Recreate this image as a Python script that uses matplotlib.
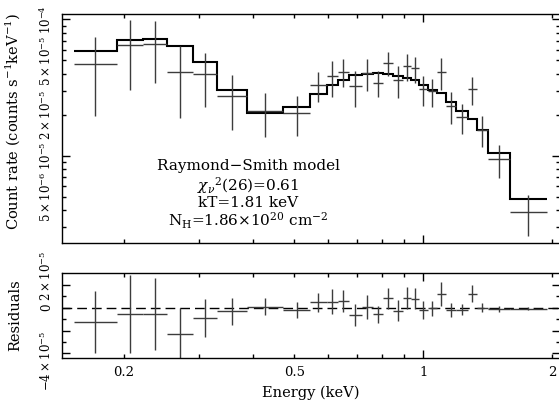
import matplotlib
matplotlib.use("Agg")
import matplotlib.pyplot as plt
import numpy as np

plt.rcParams['font.family'] = ['DejaVu Serif']
plt.rcParams['mathtext.fontset'] = 'dejavuserif'

# bin edges (keV)
edges = np.array([0.1527, 0.1921, 0.2217, 0.2515, 0.2902, 0.3302, 0.3880, 0.4709,
                  0.5435, 0.5945, 0.6320, 0.6706, 0.7190, 0.7632, 0.8052, 0.8519,
                  0.8967, 0.9360, 0.9772, 1.0256, 1.0766, 1.1298, 1.1923, 1.2719,
                  1.3354, 1.4163, 1.5945, 1.9421])

# count rate, error, model (units of 1e-5 counts/s/keV)
rate = np.array([4.68, 6.48, 6.60, 4.12, 3.95, 2.73, 2.13, 2.07, 3.31, 3.84, 4.15,
                 3.25, 4.06, 3.45, 4.80, 3.60, 4.55, 4.37, 3.10, 2.98, 4.12, 2.32,
                 1.93, 3.08, 1.56, 0.946, 0.39]) * 1e-5
err = np.array([2.71, 3.42, 3.15, 2.21, 1.68, 1.19, 0.75, 0.66, 0.82, 1.12, 0.96,
                0.95, 1.05, 0.77, 0.94, 0.93, 0.99, 0.92, 0.77, 0.68, 1.07, 0.61,
                0.48, 0.72, 0.40, 0.26, 0.131]) * 1e-5
model = np.array([5.89, 7.06, 7.14, 6.38, 4.85, 3.05, 2.05, 2.27, 2.84, 3.31, 3.60,
                  3.91, 4.00, 4.03, 3.98, 3.85, 3.70, 3.60, 3.31, 3.04, 2.90, 2.48,
                  2.12, 1.85, 1.55, 1.046, 0.484]) * 1e-5

lo = edges[:-1]
hi = edges[1:]
cen = np.sqrt(lo * hi)
xerr = [cen - lo, hi - cen]
resid = rate - model

dcol = '#3c3c3c'
lsize = 10.5
tsize = 9.5
ysize = 8.5

fig = plt.figure(figsize=(5.59, 4.04), dpi=100)
ax1 = fig.add_axes([62/559, 1 - 243/404, 498/559, 229/404])
ax2 = fig.add_axes([62/559, 1 - 358/404, 498/559, 85/404], sharex=ax1)

# --- spectrum panel
ax1.errorbar(cen, rate, xerr=xerr, yerr=err, fmt='none', ecolor=dcol, elinewidth=1.0, capsize=0)
ax1.stairs(model, edges, baseline=None, color='black', linewidth=1.5)

ax1.set_xscale('log')
ax1.set_yscale('log')
ax1.set_xlim(0.1432, 2.087)
ax1.set_ylim(2.31e-6, 1.094e-4)

ax1.set_yticks([1e-5, 1e-4], [r'$10^{-5}$', r'$10^{-4}$'])
ymin_t = [3e-6, 4e-6, 5e-6, 6e-6, 7e-6, 8e-6, 9e-6,
          2e-5, 3e-5, 4e-5, 5e-5, 6e-5, 7e-5, 8e-5, 9e-5]
ymin_l = ['', '', r'$5\times10^{-6}$', '', '', '', '',
          r'$2\times10^{-5}$', '', '', r'$5\times10^{-5}$', '', '', '', '']
ax1.set_yticks(ymin_t, ymin_l, minor=True)

ax1.set_ylabel(r'Count rate (counts s$^{-1}$keV$^{-1}$)', fontsize=lsize)
ax1.yaxis.set_label_coords(-0.080, 0.53)

ax1.text(0.3735, 0.336, 'Raymond\u2212Smith model', transform=ax1.transAxes,
         ha='center', va='center', fontsize=11)
ax1.text(0.3735, 0.253, r'$\chi_{\nu}{}^{2}$(26)=0.61', transform=ax1.transAxes,
         ha='center', va='center', fontsize=11)
ax1.text(0.3735, 0.175, 'kT=1.81 keV', transform=ax1.transAxes,
         ha='center', va='center', fontsize=11)
ax1.text(0.3735, 0.096, r'N$_{\rm H}$=1.86$\times$10$^{20}$ cm$^{-2}$', transform=ax1.transAxes,
         ha='center', va='center', fontsize=11)

# --- residual panel
ax2.axhline(0, color='black', linewidth=1.0, linestyle=(0, (7, 3.6)))
ax2.errorbar(cen, resid, xerr=xerr, yerr=err, fmt='none', ecolor=dcol, elinewidth=1.0, capsize=0)
ax2.set_ylim(-4.4e-5, 3.04e-5)
ax2.set_yticks([-4e-5, -2e-5, 0, 2e-5], ['', '', '0', ''])
ax2.set_yticks([-3e-5, -1e-5, 1e-5], minor=True)
# outer residual labels sit a little away from their ticks, as in the original
ytr = ax2.get_yaxis_transform()
ax2.text(-0.0167, 2.75e-5, r'$2\times10^{-5}$', transform=ytr, rotation=90,
         ha='right', va='center', fontsize=ysize)
ax2.text(-0.0167, -4.65e-5, r'$-4\times10^{-5}$', transform=ytr, rotation=90,
         ha='right', va='center', fontsize=ysize)
ax2.set_ylabel('Residuals', fontsize=lsize)
ax2.yaxis.set_label_coords(-0.080, 0.5)

ax2.set_xticks([1], ['1'])
xmin_t = [0.2, 0.3, 0.4, 0.5, 0.6, 0.7, 0.8, 0.9, 2]
xmin_l = ['0.2', '', '', '0.5', '', '', '', '', '2']
ax2.set_xticks(xmin_t, xmin_l, minor=True)
ax2.set_xlabel('Energy (keV)', fontsize=lsize)
ax2.xaxis.set_label_coords(0.5, -0.33)

for ax in (ax1, ax2):
    ax.tick_params(which='both', direction='in', top=True, right=True,
                   labelsize=tsize, width=1.0)
    ax.tick_params(which='major', length=5.5)
    ax.tick_params(which='minor', length=2.8)
    ax.tick_params(axis='y', which='both', labelrotation=90, pad=6, labelsize=ysize)
    ax.tick_params(axis='x', which='both', pad=6)
    for lbl in ax.get_yticklabels(which='both'):
        lbl.set_va('center')
    for s in ax.spines.values():
        s.set_linewidth(1.0)

ax1.tick_params(axis='x', which='both', labelbottom=False)

fig.savefig('out.png', dpi=100)
